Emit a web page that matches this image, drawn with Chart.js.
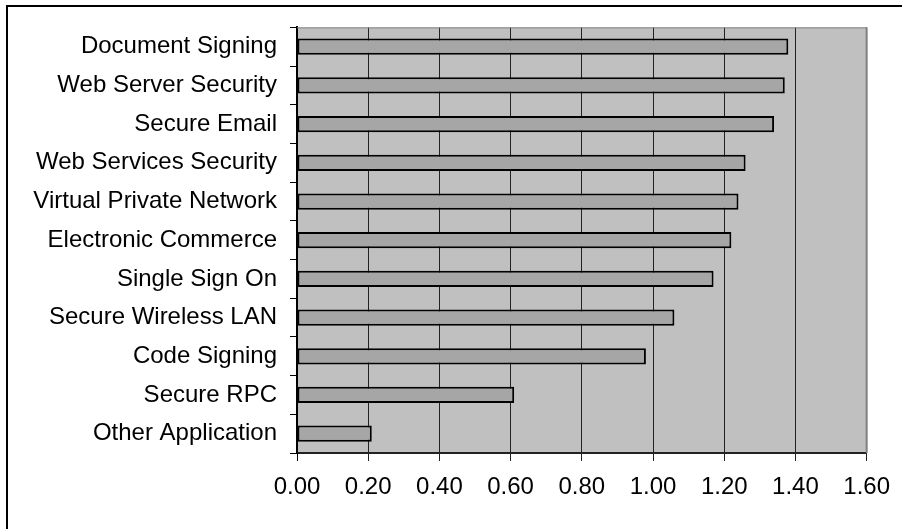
<!DOCTYPE html>
<html>
<head>
<meta charset="utf-8">
<script src="https://cdn.jsdelivr.net/npm/chart.js@4/dist/chart.umd.min.js"></script>
<style>
  html, body { margin: 0; padding: 0; background: #fff; }
  #wrap { position: relative; width: 902px; height: 529px; overflow: hidden; }
  #chart { position: absolute; left: 0; top: 0; }
  #frame {
    position: absolute; left: 6px; top: 5px; width: 900px; height: 530px;
    border-top: 2px solid #000; border-left: 2px solid #000;
    pointer-events: none;
  }
</style>
</head>
<body>
<div id="wrap">
  <canvas id="chart" width="902" height="529"></canvas>
  <div id="frame"></div>
</div>
<script>
// Application types, ranked by score
const categories = [
  'Document Signing',
  'Web Server Security',
  'Secure Email',
  'Web Services Security',
  'Virtual Private Network',
  'Electronic Commerce',
  'Single Sign On',
  'Secure Wireless LAN',
  'Code Signing',
  'Secure RPC',
  'Other Application'
];
const scores = [1.38, 1.37, 1.34, 1.26, 1.24, 1.22, 1.17, 1.06, 0.98, 0.61, 0.21];
const axisMin = 0;
const axisMax = 1.6;
const axisStep = 0.2;

const FONT = { family: '"Liberation Sans", Arial, sans-serif', size: 24 };

// Grey plot panel with a thin grey frame on top and right
const plotPanel = {
  id: 'plotPanel',
  beforeDraw(chart) {
    const { ctx, chartArea: a } = chart;
    ctx.save();
    ctx.fillStyle = '#C0C0C0';
    ctx.fillRect(a.left, a.top, a.right - a.left, a.bottom - a.top);
    ctx.restore();
  },
  afterDraw(chart) {
    const { ctx, chartArea: a } = chart;
    ctx.save();
    ctx.strokeStyle = '#808080';
    ctx.lineWidth = 1;
    ctx.beginPath();
    ctx.moveTo(a.left, a.top + 0.5);
    ctx.lineTo(a.right, a.top + 0.5);
    ctx.stroke();
    ctx.lineWidth = 2;
    ctx.beginPath();
    ctx.moveTo(a.right, a.top);
    ctx.lineTo(a.right, a.bottom);
    ctx.stroke();
    ctx.restore();
  }
};

new Chart(document.getElementById('chart'), {
  type: 'bar',
  data: {
    labels: categories,
    datasets: [{
      data: scores,
      backgroundColor: '#A6A6A6',
      borderColor: '#000',
      borderWidth: 2,
      borderSkipped: false,
      categoryPercentage: 1,
      barPercentage: 0.42
    }]
  },
  options: {
    indexAxis: 'y',
    responsive: false,
    animation: false,
    layout: { padding: { left: 0, top: 25, right: 32, bottom: 0 } },
    plugins: { legend: { display: false }, tooltip: { enabled: false } },
    scales: {
      x: {
        type: 'linear',
        min: axisMin,
        max: axisMax,
        afterFit(scale) { scale.height = 76; },
        border: { display: true, color: '#222', width: 2 },
        grid: {
          drawOnChartArea: true,
          drawTicks: true,
          tickLength: 8,
          lineWidth: 1,
          color: (c) => c.index === 0 ? '#000' : '#222'
        },
        ticks: {
          stepSize: axisStep,
          autoSkip: false,
          maxRotation: 0,
          padding: 12,
          color: '#000',
          font: FONT,
          callback: (v) => Number(v).toFixed(2)
        }
      },
      y: {
        type: 'category',
        afterFit(scale) { scale.width = 297; },
        border: { display: true, color: '#000', width: 2 },
        grid: {
          offset: true,
          drawOnChartArea: false,
          drawTicks: true,
          tickLength: 7,
          color: '#000',
          lineWidth: 1
        },
        ticks: {
          autoSkip: false,
          padding: 13,
          color: '#000',
          font: FONT
        }
      }
    }
  },
  plugins: [plotPanel]
});
</script>
</body>
</html>
